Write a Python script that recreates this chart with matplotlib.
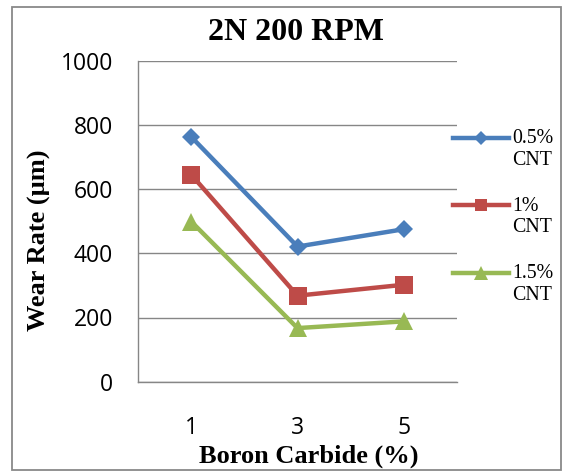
import numpy as np
import matplotlib
matplotlib.use("Agg")
import matplotlib.pyplot as plt
from matplotlib.lines import Line2D
from matplotlib.legend_handler import HandlerLine2D
from matplotlib.patches import Rectangle

# data
categories = ["1", "3", "5"]
series_labels = ["0.5%\nCNT", "1%\nCNT", "1.5%\nCNT"]
cnt_05 = [763, 421, 475]
cnt_10 = [645, 268, 302]
cnt_15 = [499, 167, 188]
yticks = [0, 200, 400, 600, 800, 1000]

colors = ["#4A7EBB", "#BE4B48", "#98B954"]
markers = ["D", "s", "^"]
msizes = [9.5, 12.5, 13.5]

serif = "Liberation Serif"
sans = "Open Sans"
grid_col = "#868686"


class FirstLineHandler(HandlerLine2D):
    """Put the legend handle next to the first line of a two-line label."""
    def create_artists(self, legend, orig_handle, xdescent, ydescent,
                       width, height, fontsize, trans):
        arts = super().create_artists(legend, orig_handle, xdescent, ydescent,
                                      width, height, fontsize, trans)
        for a in arts:
            a.set_ydata(np.asarray(a.get_ydata()) + 0.6 * fontsize)
        return arts


fig = plt.figure(figsize=(5.64, 4.75), dpi=100)
ax = fig.add_axes([138 / 564, 1 - 381.7 / 475, 319 / 564, 321 / 475])

for vals, lab, c, m, ms in zip([cnt_05, cnt_10, cnt_15], series_labels,
                               colors, markers, msizes):
    ax.plot(categories, vals, color=c, lw=3.2, marker=m, markersize=ms,
            markeredgewidth=0, label=lab, solid_joinstyle="miter")

ax.set_xlim(-0.5, 2.5)
ax.set_ylim(0, 1000)
ax.set_yticks(yticks)
ax.grid(axis="y", color=grid_col, lw=1.0)
ax.set_axisbelow(True)
for s in ["top", "right"]:
    ax.spines[s].set_visible(False)
for s in ["left", "bottom"]:
    ax.spines[s].set_color(grid_col)
    ax.spines[s].set_linewidth(1.0)

ax.tick_params(axis="y", length=0, pad=18, labelsize=16.5)
ax.tick_params(axis="x", length=0, pad=25, labelsize=16.5)
for t in ax.get_xticklabels() + ax.get_yticklabels():
    t.set_fontfamily(sans)

ax.set_xlabel("Boron Carbide (%)", fontfamily=serif, fontweight="bold",
              fontsize=19, va="center")
ax.xaxis.set_label_coords(0.534, -0.232)
ax.set_ylabel("Wear Rate (µm)", fontfamily=serif, fontweight="bold",
              fontsize=19, va="center", ha="center")
ax.yaxis.set_label_coords(-0.31, 0.441)

fig.text(296 / 564, 1 - 32 / 475, "2N 200 RPM", fontfamily=serif,
         fontweight="bold", fontsize=23, ha="center", va="center")

leg = fig.legend(loc="upper left", bbox_to_anchor=(453 / 564, 1 - 129 / 475),
                 frameon=False, borderpad=0, borderaxespad=0,
                 handlelength=2.8, handletextpad=0.2, labelspacing=1.35,
                 markerscale=0.72, prop={"family": serif, "size": 14.3},
                 handler_map={Line2D: FirstLineHandler()})

fig.add_artist(Rectangle((11.7 / 564, 1 - 470 / 475), 549 / 564, 463.3 / 475,
                         transform=fig.transFigure, fill=False,
                         ec="#898989", lw=1.3))

fig.savefig("out.png", dpi=100)
